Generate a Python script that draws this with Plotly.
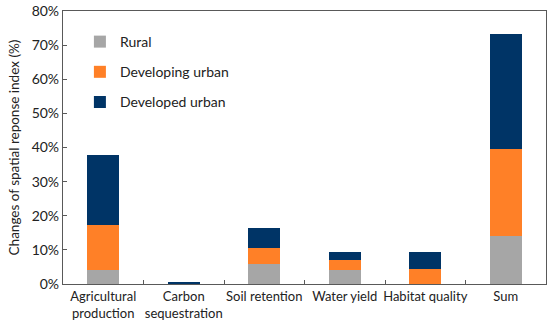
import plotly.graph_objects as go

categories = ["Agricultural<br>production", "Carbon<br>sequestration", "Soil retention",
              "Water yield", "Habitat quality", "Sum"]
rural = [4.1, 0.05, 5.8, 4.2, 0.0, 14.1]
developing = [13.2, 0.05, 4.7, 2.9, 4.5, 25.6]
developed = [20.5, 0.3, 6.0, 2.2, 4.8, 33.5]
y_ticks = [0, 10, 20, 30, 40, 50, 60, 70, 80]
y_ticklabels = [f"{v}%" for v in y_ticks]

font = "Lato, Liberation Sans, sans-serif"
fig = go.Figure()
for name, vals, col in [("Rural", rural, "#A6A6A6"),
                        ("Developing urban", developing, "#FF8027"),
                        ("Developed urban", developed, "#003466")]:
    fig.add_trace(go.Bar(x=categories, y=vals, name=name, marker_color=col,
                         marker_line_width=0, width=0.4, legendgroup=name))

fig.update_layout(
    width=550, height=331, barmode="stack",
    margin=dict(l=63, r=4, t=11, b=47, autoexpand=False),
    paper_bgcolor="white", plot_bgcolor="white",
    font=dict(family=font, size=13, color="#222"),
    legend=dict(x=0.035, y=0.945, xanchor="left", yanchor="top", traceorder="grouped",
                tracegroupgap=9, font=dict(size=14), bgcolor="rgba(0,0,0,0)",
                itemwidth=30),
    yaxis=dict(range=[0, 80], tickvals=y_ticks, ticktext=y_ticklabels,
               showgrid=False, showline=True, linecolor="#595959", linewidth=1.2,
               mirror=True, ticks="inside", ticklen=4, tickcolor="#595959",
               tickfont=dict(size=14),
               title=dict(text="Changes of spatial reponse index (%)", font=dict(size=13.5), standoff=8)),
    xaxis=dict(showgrid=False, showline=True, linecolor="#595959", linewidth=1.2,
               mirror=True, ticks="inside", ticklen=4, tickcolor="#595959",
               tickson="boundaries", tickangle=0, tickfont=dict(size=13)),
)
fig.write_html("out.html", config={"displayModeBar": False})

with open("out.html", encoding="utf-8") as f:
    html = f.read()
html = html.replace("<head>", "<head><style>html,body{margin:0;padding:0;overflow:hidden}</style>", 1)
with open("out.html", "w", encoding="utf-8") as f:
    f.write(html)
